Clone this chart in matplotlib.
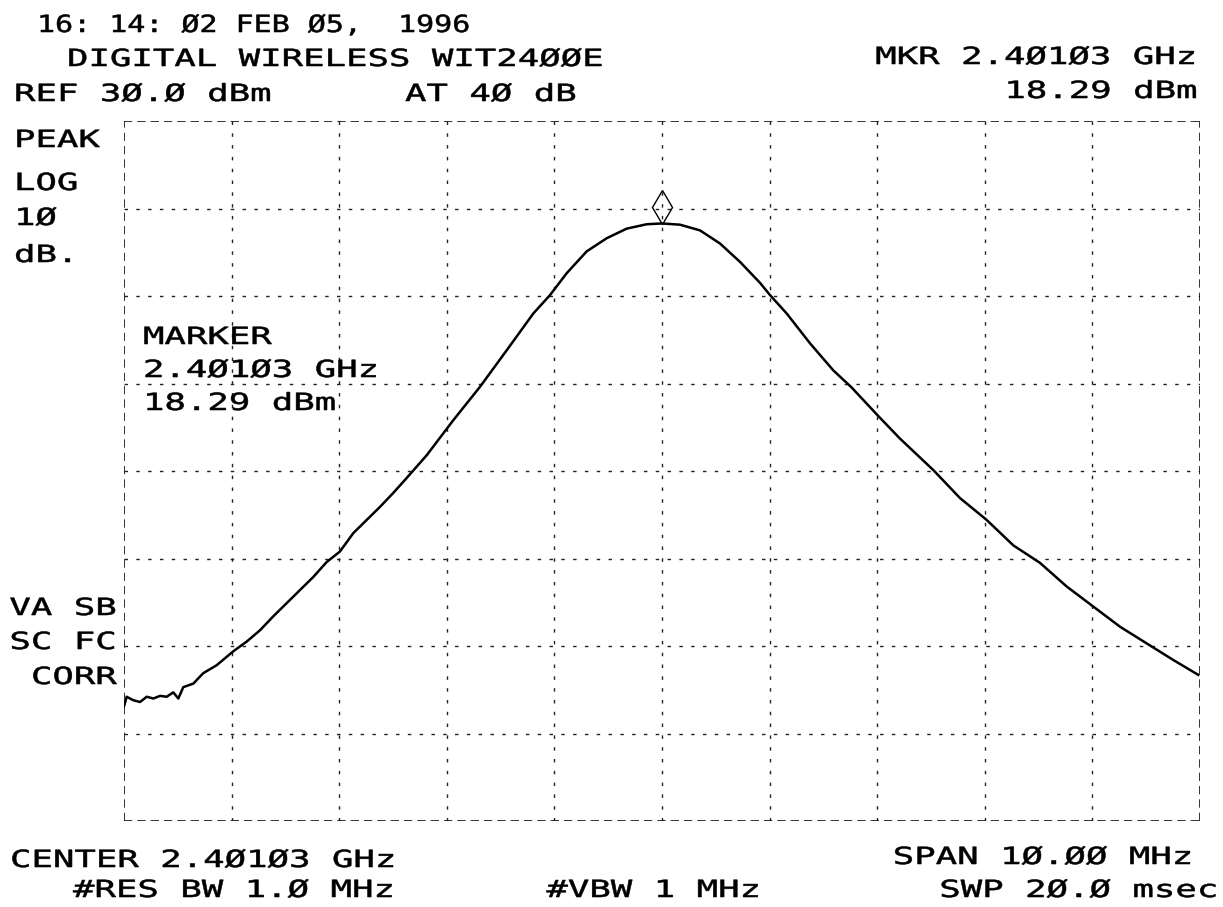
import matplotlib
matplotlib.use("Agg")
import matplotlib.pyplot as plt
from matplotlib import patheffects
from matplotlib.transforms import Affine2D

# ---- data ----
freq_offset_mhz = [-5.0, -4.975, -4.913, -4.851, -4.789, -4.727, -4.665, -4.603,
                   -4.542, -4.495, -4.449, -4.356, -4.263, -4.139, -3.984, -3.860,
                   -3.736, -3.612, -3.488, -3.364, -3.240, -3.116, -2.993, -2.869,
                   -2.745, -2.621, -2.497, -2.373, -2.187, -1.940, -1.691, -1.443,
                   -1.196, -1.041, -0.886, -0.700, -0.514, -0.328,
                   -0.142, 0.0, 0.167, 0.353, 0.539, 0.725, 0.911, 1.004, 1.159,
                   1.375, 1.592, 1.762, 2.001, 2.212, 2.522, 2.770, 3.018, 3.265,
                   3.513, 3.761, 4.009, 4.257, 4.504, 4.752, 4.984]
level_dbm = [-36.9, -35.8, -36.2, -36.4, -35.8, -36.0, -35.7, -35.8,
             -35.3, -36.0, -34.7, -34.3, -33.1, -32.2, -30.6, -29.5,
             -28.2, -26.6, -25.1, -23.6, -22.1, -20.4, -19.2, -17.1,
             -15.6, -14.1, -12.5, -10.8, -8.2, -4.2, -0.37, 3.8,
             8.0, 10.1, 12.6, 15.1, 16.6, 17.7,
             18.2, 18.29, 18.15, 17.5, 16.0, 13.9, 11.5, 10.1, 8.0,
             4.6, 1.5, -0.45, -3.6, -6.3, -9.9, -13.1, -15.6, -18.5,
             -20.5, -23.2, -25.5, -27.8, -29.7, -31.6, -33.3]

marker_freq = 0.0
marker_level = 18.29

ref_level = 30.0
db_per_div = 10.0
n_ydiv = 8
span_mhz = 10.0
n_xdiv = 10

header_lines = ["16: 14: Ø2 FEB Ø5,  1996", "DIGITAL WIRELESS WIT24ØØE"]
ref_text = "REF 3Ø.Ø dBm"
atten_text = "AT 4Ø dB"
mkr_text = ["MKR 2.4Ø1Ø3 GHz", "18.29 dBm"]
left_labels = ["PEAK", "LOG", "1Ø", "dB."]
marker_block = ["MARKER", "2.4Ø1Ø3 GHz", "18.29 dBm"]
mode_labels = ["VA SB", "SC FC", "CORR"]
center_text = "CENTER 2.4Ø1Ø3 GHz"
span_text = "SPAN 1Ø.ØØ MHz"
rbw_text = "#RES BW 1.Ø MHz"
vbw_text = "#VBW 1 MHz"
swp_text = "SWP 2Ø.Ø msec"

# ---- figure ----
W, H = 1223, 907
DPI = 100
fig = plt.figure(figsize=(W / DPI, H / DPI), dpi=DPI)
fig.patch.set_facecolor("white")

x0, x1, y0, y1 = 124, 1200, 121, 821
ax = fig.add_axes([x0 / W, 1 - y1 / H, (x1 - x0) / W, (y1 - y0) / H])
ax.set_xlim(-span_mhz / 2, span_mhz / 2)
ax.set_ylim(ref_level - n_ydiv * db_per_div, ref_level)
ax.set_facecolor("white")
for s in ax.spines.values():
    s.set_visible(False)
ax.set_xticks([])
ax.set_yticks([])

grid_kw = dict(color="#222222", lw=1.0, ls=(0, (2.5, 6)))
xdiv = span_mhz / n_xdiv
for i in range(1, n_xdiv):
    ax.axvline(-span_mhz / 2 + i * xdiv, **grid_kw)
for j in range(1, n_ydiv):
    ax.axhline(ref_level - j * db_per_div, **grid_kw)

border_kw = dict(color="#111111", lw=1.2, ls=(0, (5, 3)))
ax.axvline(-span_mhz / 2, **border_kw)
ax.axvline(span_mhz / 2, **border_kw)
ax.axhline(ref_level, **border_kw)
ax.axhline(ref_level - n_ydiv * db_per_div, **border_kw)

ax.plot(freq_offset_mhz, level_dbm, color="black", lw=1.8, solid_joinstyle="round")

# marker symbol above the peak
ax.plot([marker_freq], [marker_level + 1.9], marker="d", ms=17, mfc="none",
        mec="black", mew=1.0, ls=":")


# ---- annotations: wide plotter-style lettering ----
class HStretch(patheffects.AbstractPathEffect):
    """Draw the text glyphs stretched horizontally about an anchor x (pixels)."""

    def __init__(self, sx, anchor_px, stroke=0.4):
        super().__init__()
        self.sx = sx
        self.anchor = anchor_px
        self.stroke = stroke

    def draw_path(self, renderer, gc, tpath, affine, rgbFace=None):
        t = affine + Affine2D().translate(-self.anchor, 0).scale(self.sx, 1.0) \
            .translate(self.anchor, 0)
        gc0 = renderer.new_gc()
        gc0.copy_properties(gc)
        gc0.set_linewidth(self.stroke)
        gc0.set_foreground(rgbFace if rgbFace is not None else "black")
        renderer.draw_path(gc0, tpath, t, rgbFace)
        gc0.restore()


FONT = ["DejaVu Sans Mono", "DejaVu Sans"]
FS = 17
SX = 1.51


def txt(x, y, s, ha="left", sx=SX):
    fig.text(x / W, 1 - y / H, s, ha=ha, va="center", family=FONT,
             fontsize=FS, color="black",
             path_effects=[HStretch(sx, x * DPI / 100.0)])


txt(37, 25, header_lines[0], sx=1.27)
txt(67, 59, header_lines[1])
txt(14, 94, ref_text)
txt(405, 94, atten_text)
txt(1198, 57, mkr_text[0], ha="right")
txt(1198, 91, mkr_text[1], ha="right")

for lbl, yy in zip(left_labels, [140, 183, 218, 255]):
    txt(14, yy, lbl)
for lbl, yy in zip(marker_block, [337, 370, 403]):
    txt(143, yy, lbl)
for lbl, yy in zip(mode_labels, [608, 642, 677]):
    txt(117, yy, lbl, ha="right")

txt(10, 860, center_text)
txt(1194, 857, span_text, ha="right")
txt(73, 890, rbw_text)
txt(654, 890, vbw_text, ha="center")
txt(1219, 890, swp_text, ha="right")

fig.savefig("out.png", dpi=DPI, facecolor="white")
